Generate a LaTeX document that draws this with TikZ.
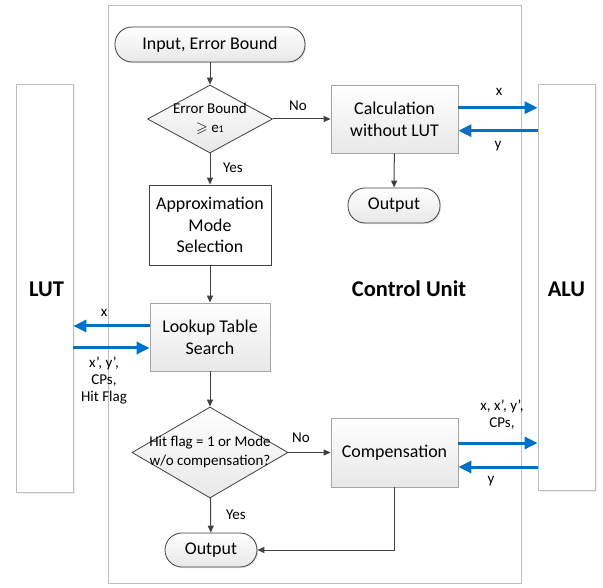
\documentclass[tikz,border=0pt]{standalone}
\usepackage{fontspec}
\usepackage{amssymb}
\setmainfont{Carlito}
\usetikzlibrary{shapes.geometric,arrows.meta,shadows,calc}
\definecolor{arrgray}{RGB}{64,64,64}
\definecolor{framegray}{RGB}{190,190,190}
\definecolor{boxgray}{RGB}{165,165,165}
\definecolor{office}{RGB}{0,112,192}
\tikzset{
  procbox/.style={rectangle, draw=boxgray, line width=0.8pt, top color=white, bottom color=black!9,
    align=center, font=\fontsize{17.9}{22}\selectfont, inner sep=0pt,
    drop shadow={shadow xshift=1.2pt, shadow yshift=-1.2pt, fill=black!18, opacity=0.6}},
  termbox/.style={procbox, draw=arrgray, rounded corners=17pt},
  plainbox/.style={rectangle, draw=arrgray, line width=0.8pt, fill=white, align=center,
    font=\fontsize{17.9}{21.5}\selectfont, inner sep=0pt},
  decbox/.style={diamond, draw=arrgray, line width=0.8pt, top color=white, bottom color=black!9, inner sep=0pt},
  dectext/.style={align=center, font=\fontsize{15}{19}\selectfont, inner sep=0pt},
  sidebox/.style={rectangle, draw=framegray, line width=0.8pt, fill=white,
    drop shadow={shadow xshift=1.5pt, shadow yshift=-1.5pt, fill=black!12}},
  lbl/.style={font=\fontsize{15}{17}\selectfont, inner sep=0pt, align=center},
  bigl/.style={font=\bfseries\fontsize{22.5}{25}\selectfont, inner sep=0pt},
  flow/.style={draw=arrgray, line width=1pt, -{Triangle[length=7pt,width=6pt]}},
  blue/.style={draw=office, line width=3pt, -{Triangle[length=13pt,width=12pt]}},
}
\begin{document}
\begin{tikzpicture}[x=1pt,y=-1pt]
\useasboundingbox (0,0) rectangle (603,588);
% frames
\node[draw=framegray, line width=0.8pt, minimum width=413pt, minimum height=578pt, inner sep=0pt] (cu) at (314.5,294) {};
\node[sidebox, minimum width=57pt, minimum height=408pt, inner sep=0pt] (lut) at (44.5,288) {};
\node[sidebox, minimum width=57pt, minimum height=406pt, inner sep=0pt] (alu) at (566.5,287) {};
\node[bigl] (lutl) at (46.5,289) {LUT};
\node[bigl] (alul) at (566.5,289) {ALU};
\node[bigl] (cul) at (409,289) {Control Unit};
% flow nodes
\node[termbox, minimum width=190pt, minimum height=35pt] (in) at (210,44.5) {Input, Error Bound};
\node[decbox, minimum width=125pt, minimum height=68pt] (d1) at (210,119) {};
\node[dectext] (d1t) at (210,119) {Error Bound\\$\geqslant$ e{\fontsize{10}{10}\selectfont 1}};
\node[procbox, minimum width=127pt, minimum height=68pt] (calc) at (394.5,119) {Calculation\\without LUT};
\node[termbox, minimum width=92pt, minimum height=35pt] (out1) at (394,205.5) {Output};
\node[plainbox, minimum width=122pt, minimum height=80pt] (ams) at (210,225) {Approximation\\Mode\\Selection};
\node[procbox, minimum width=120pt, minimum height=68pt] (lts) at (210,337) {Lookup Table\\Search};
\node[decbox, minimum width=156pt, minimum height=91pt] (d2) at (210,452.5) {};
\node[dectext] (d2t) at (210,452.5) {Hit flag = 1 or Mode\\w/o compensation?};
\node[procbox, minimum width=127pt, minimum height=69pt] (comp) at (394.5,452.5) {Compensation};
\node[termbox, minimum width=92pt, minimum height=34pt] (out2) at (211,550) {Output};
% flow arrows
\draw[flow] (in) -- (d1);
\draw[flow] (d1) -- (calc);
\draw[flow] (d1) -- (ams);
\draw[flow] (calc) -- (out1);
\draw[flow] (ams) -- (lts);
\draw[flow] (lts) -- (d2);
\draw[flow] (d2) -- (comp);
\draw[flow] (d2) -- (out2);
\draw[flow] (comp.south) |- (out2.east);
\node[lbl] (no1) at (298,106) {No};
\node[lbl] (yes1) at (233,168) {Yes};
\node[lbl] (no2) at (301,438) {No};
\node[lbl] (yes2) at (236,515) {Yes};
% blue arrows
\draw[blue] ([yshift=11.3pt]calc.east) -- ([yshift=11.3pt]calc.east -| alu.west);
\draw[blue] ([yshift=-11.7pt]calc.east -| alu.west) -- ([yshift=-11.7pt]calc.east);
\node[lbl] (xa) at (499,92) {x};
\node[lbl] (ya) at (498,146) {y};
\draw[blue] ([yshift=11pt]lts.west) -- ([yshift=11pt]lts.west -| lut.east);
\draw[blue] ([yshift=-11pt]lts.west -| lut.east) -- ([yshift=-11pt]lts.west);
\node[lbl] (xl) at (104,313) {x};
\node[lbl] (xyl) at (104,381) {x’, y’,\\CPs,\\Hit Flag};
\draw[blue] ([yshift=9.5pt]comp.east) -- ([yshift=9.5pt]comp.east -| alu.west);
\draw[blue] ([yshift=-14.5pt]comp.east -| alu.west) -- ([yshift=-14.5pt]comp.east);
\node[lbl] (xc) at (502,415) {x, x’, y’,\\CPs,};
\node[lbl] (yc) at (491,481) {y};
\end{tikzpicture}
\end{document}
